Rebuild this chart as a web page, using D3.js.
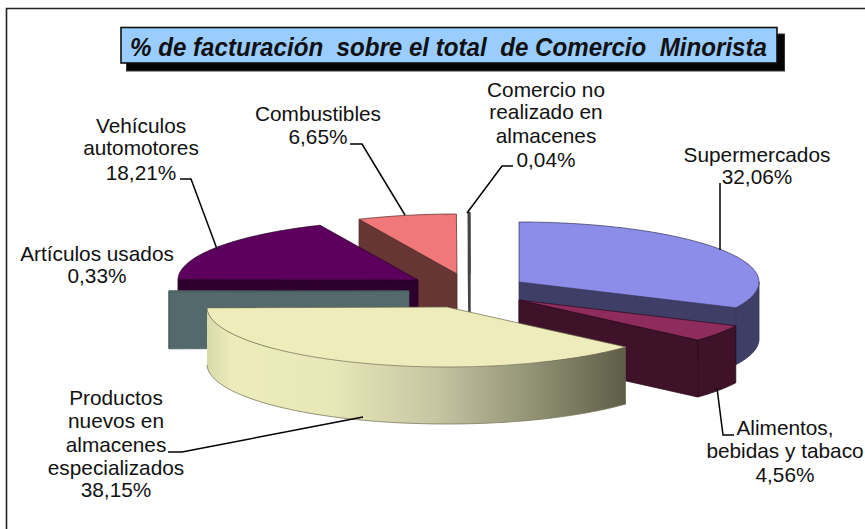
<!DOCTYPE html>
<html lang="es">
<head>
<meta charset="utf-8">
<title>% de facturación sobre el total de Comercio Minorista</title>
<script src="https://cdn.jsdelivr.net/npm/d3@7/dist/d3.min.js"></script>
<style>
html,body{margin:0;padding:0;background:#fff}
svg{display:block}
text{font-family:"Liberation Sans",Arial,sans-serif;fill:#111}
</style>
</head>
<body>
<svg id="chart" width="865" height="529"></svg>
<script>
// ---- data ----
const chartTitle = "% de facturación  sobre el total  de Comercio  Minorista";
const categories = [
  ["Supermercados"],
  ["Alimentos,", "bebidas y tabaco"],
  ["Productos", "nuevos en", "almacenes", "especializados"],
  ["Artículos usados"],
  ["Vehículos", "automotores"],
  ["Combustibles"],
  ["Comercio no", "realizado en", "almacenes"]
];
const shares = [32.06, 4.56, 38.15, 0.33, 18.21, 6.65, 0.04];

// ---- layout and style (not data) ----
const W = 865, H = 529;
const radiusX = 240, radiusY = 60, depth = 57;
const sliceCenters = [[519,282],[519,300],[447,307],[409,291],[418,280],[457,274],[469.5,273]];
const topColors  = ["#8c8ce9","#8e2c5e","#edecba","#53696b","#5d005d","#f07878","#444444"];
const sideColors = ["#3e3e66","#3e1228","url(#wallGrad)","#53696b","#2d002d","#673534","#444444"];
const edgeColors = ["#33335a","#2a0a1a","#6b6b50","#4a5e60","#230023","#4f2827","#444444"];
const paintOrder = [6,5,4,3,0,1,2];
const labelX = [757,785,116,97,141,318,546];
const labelBaselines = [[162,184],[435,458,482],[405,428,452,475,497],[261,283],[133,155,180],[121,144],[97,119,143,167]];
const leaders = [
  [[720,183],[720,250]],
  [[717,388],[723,435],[734,435]],
  [[168,452],[182,452],[363,417]],
  [],
  [[180,179],[191,179],[217,249]],
  [[350,144],[362,144],[405,215]],
  [[513,166],[502,166],[467,213]]
];
const fontSize = 20.8;

// ---- drawing ----
const svg = d3.select("#chart");
const fmt = d3.formatLocale({decimal:",",thousands:".",grouping:[3],currency:["","%"]}).format(".2f");

const grad = svg.append("defs").append("linearGradient")
  .attr("id","wallGrad").attr("x1","0").attr("x2","1").attr("y1","0").attr("y2","0");
[[0,"#dad9ab"],[0.06,"#edecba"],[0.30,"#e8e7b8"],[0.55,"#c5c5a2"],[0.75,"#98987a"],[1,"#5e5e48"]]
  .forEach(([o,c]) => grad.append("stop").attr("offset",o).attr("stop-color",c));

// frame: only the top and left rules are inside the picture
svg.append("path").attr("d",`M6.5,${H}V8.5H${W}`).attr("fill","none").attr("stroke","#222").attr("stroke-width",1.6);

const arcs = d3.pie().sort(null).value(d => d)(shares);
const line = d3.line();
const degStep = Math.PI/180;

function rim(i, a){
  const [cx,cy] = sliceCenters[i];
  return [cx + radiusX*Math.sin(a), cy - radiusY*Math.cos(a)];
}
function rimPoints(i, a0, a1){
  const n = Math.max(1, Math.ceil((a1-a0)/degStep));
  return d3.range(n+1).map(k => rim(i, a0 + (a1-a0)*k/n));
}
const down = p => [p[0], p[1]+depth];

const gSlices = svg.append("g");
paintOrder.forEach(i => {
  const d = arcs[i], g = gSlices.append("g");
  const c = sliceCenters[i];
  const side = p => g.append("path").attr("d", line(p)+"Z")
    .attr("fill",sideColors[i])
    .attr("stroke",i===2?"none":edgeColors[i]).attr("stroke-width",i===6?2.4:0.8).attr("stroke-linejoin","round");
  // flat cut faces that look toward the viewer
  if (Math.sin(d.startAngle) < 0) { const r = rim(i,d.startAngle); side([c,r,down(r),down(c)]); }
  if (Math.sin(d.endAngle) > 0)   { const r = rim(i,d.endAngle);   side([c,r,down(r),down(c)]); }
  // curved outer wall on the front half of the ellipse
  const a0 = Math.max(d.startAngle, Math.PI/2), a1 = Math.min(d.endAngle, 3*Math.PI/2);
  if (a1 > a0) {
    const pts = rimPoints(i,a0,a1);
    side(pts.concat(pts.map(down).reverse()));
    if (i===2) g.append("path").attr("d",line(pts.map(down))).attr("fill","none")
      .attr("stroke","#77775c").attr("stroke-width",0.8);
  }
  // top face
  g.append("path").attr("d", line([c].concat(rimPoints(i,d.startAngle,d.endAngle)))+"Z")
    .attr("fill",topColors[i]).attr("stroke",edgeColors[i]).attr("stroke-width",i===6?2.4:0.7).attr("stroke-linejoin","round");
});

// leader lines
svg.append("g").selectAll("path").data(leaders.filter(l => l.length)).join("path")
  .attr("d", d => line(d)).attr("fill","none").attr("stroke","#000").attr("stroke-width",1.5);

// labels
categories.forEach((lines,i) => {
  const all = lines.concat(fmt(shares[i]) + "%");
  svg.append("g").selectAll("text").data(all).join("text")
    .attr("x",labelX[i]).attr("y",(_,k)=>labelBaselines[i][k])
    .attr("text-anchor","middle").attr("font-size",fontSize).text(t=>t);
});

// title box
svg.append("rect").attr("x",126.5).attr("y",34).attr("width",658).attr("height",37).attr("fill","#050505").attr("stroke","#333");
svg.append("rect").attr("x",121).attr("y",27.5).attr("width",656).attr("height",35.5).attr("fill","#99ccff").attr("stroke","#111").attr("stroke-width",1.6);
svg.append("text").attr("x",130).attr("y",56).attr("text-anchor","start")
  .attr("font-size",25.5).attr("font-weight","bold").attr("font-style","italic")
  .style("white-space","pre").attr("textLength",637).attr("lengthAdjust","spacingAndGlyphs").text(chartTitle);
</script>
</body>
</html>
